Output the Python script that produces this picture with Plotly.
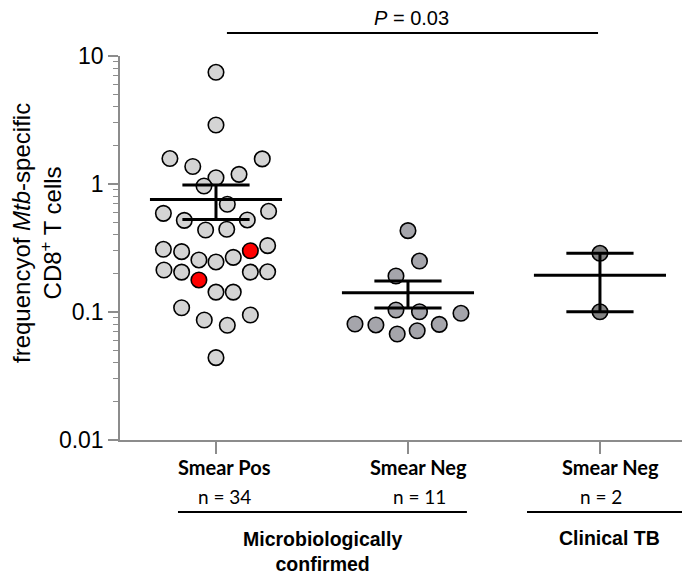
import numpy as np
import plotly.graph_objects as go

# ---- data ----
categories = ["Smear Pos", "Smear Neg", "Smear Neg"]
n_labels = ["n = 34", "n = 11", "n = 2"]

smear_pos = [7.46, 2.89, 1.58, 1.37, 1.57, 1.19, 1.12, 0.965, 0.694, 0.590,
             0.612, 0.520, 0.524, 0.437, 0.443, 0.309, 0.296, 0.301, 0.330, 0.255,
             0.246, 0.267, 0.213, 0.205, 0.178, 0.205, 0.206, 0.143, 0.143, 0.108,
             0.0866, 0.0787, 0.0948, 0.0440]
smear_pos_jitter = [0, 0, -0.240, -0.121, 0.241, 0.120, 0, -0.0625, 0.059, -0.274,
                    0.274, -0.165, 0.163, -0.054, 0.056, -0.274, -0.179, 0.179, 0.269, -0.089,
                    0, 0.090, -0.271, -0.179, -0.089, 0.179, 0.269, 0, 0.090, -0.179,
                    -0.061, 0.059, 0.179, 0]
smear_pos_red = [17, 24]  # indices of highlighted (red) donors

smear_neg = [0.432, 0.250, 0.191, 0.1036, 0.1005, 0.0977, 0.0806, 0.0792, 0.080, 0.0673, 0.0714]
smear_neg_jitter = [0, 0.060, -0.0625, -0.0625, 0.060, 0.276, -0.276, -0.167, 0.163, -0.056, 0.048]

clinical = [0.2874, 0.1005]
clinical_jitter = [0, 0]

groups = [smear_pos, smear_neg, clinical]
jitters = [smear_pos_jitter, smear_neg_jitter, clinical_jitter]
fills = ["#d4d4d4", "#a5a5ab", "#828282"]

fig = go.Figure()

for gi, (vals, jit, fc) in enumerate(zip(groups, jitters, fills)):
    xs = [gi + j for j in jit]
    colors = [fc] * len(vals)
    if gi == 0:
        for k in smear_pos_red:
            colors[k] = "#ff0000"
    fig.add_trace(go.Scatter(
        x=xs, y=vals, mode="markers",
        marker=dict(size=15.5, color=colors, line=dict(color="black", width=1.6)),
        showlegend=False, hoverinfo="y"))

# mean +/- SEM
for gi, vals in enumerate(groups):
    v = np.array(vals)
    m = v.mean()
    sem = v.std(ddof=1) / np.sqrt(len(v))
    lo, hi = m - sem, m + sem
    xs = [gi - 0.344, gi + 0.344, None, gi - 0.175, gi + 0.175, None,
          gi - 0.175, gi + 0.175, None, gi, gi]
    ys = [m, m, None, hi, hi, None, lo, lo, None, lo, hi]
    fig.add_trace(go.Scatter(x=xs, y=ys, mode="lines",
                             line=dict(color="black", width=3),
                             showlegend=False, hoverinfo="skip"))

axis_col = "#8c8c8c"
minor_vals = [k * 10.0 ** e for e in (-2, -1, 0) for k in range(2, 10)]

# page has an 8px body margin: figure is offset by (8, 8)
fig.update_layout(
    width=682, height=570,
    margin=dict(l=112, r=0, t=48, b=138),
    paper_bgcolor="white", plot_bgcolor="white",
    font=dict(family="Liberation Sans, Arial, sans-serif", color="black"),
    xaxis=dict(range=[-0.5, 2.469], showgrid=False, zeroline=False,
               showline=True, linecolor=axis_col, linewidth=1.5,
               tickvals=[0, 1, 2], showticklabels=False, ticks="outside",
               ticklen=12, tickwidth=2, tickcolor=axis_col),
    yaxis=dict(type="log", range=[-2, 1], showgrid=False, zeroline=False,
               showline=True, linecolor=axis_col, linewidth=1.5,
               tickvals=[0.01, 0.1, 1, 10], ticktext=["0.01", "0.1", "1", "10"],
               ticks="outside", ticklen=10, tickwidth=1.5, tickcolor=axis_col,
               tickfont=dict(size=23),
               minor=dict(tickvals=minor_vals, ticks="outside", ticklen=5,
                          tickwidth=1.2, tickcolor=axis_col, showgrid=False)),
)

def py(px):
    # page pixel row -> paper y (plot area spans rows 56..440 of the page)
    return (440 - px) / 384.0

# y-axis title
fig.add_annotation(text="frequencyof <i>Mtb</i>-specific<br>CD8<sup>+</sup> T cells",
                   xref="paper", yref="paper", x=(37 - 120) / 570, y=py(233),
                   textangle=-90, showarrow=False, xanchor="center", yanchor="middle",
                   font=dict(size=24))

# category labels
cat_font = dict(family="Lato, Open Sans, sans-serif", size=20, color="black", weight=900)
shifts = [9, 11, 11]
n_shifts = [9, 12, 1]
for gi, (c, nl) in enumerate(zip(categories, n_labels)):
    fig.add_annotation(text="<b>%s</b>" % c, x=gi, xshift=shifts[gi], xref="x",
                       yref="paper", y=py(467), showarrow=False,
                       xanchor="center", yanchor="middle", font=cat_font)
    fig.add_annotation(text=nl, x=gi, xshift=n_shifts[gi], xref="x",
                       yref="paper", y=py(496), showarrow=False,
                       xanchor="center", yanchor="middle",
                       font=dict(family="Lato, Open Sans, sans-serif", size=19))

# group brackets
fig.add_shape(type="line", xref="x", yref="paper", x0=-0.198, x1=1.307,
              y0=py(512), y1=py(512), line=dict(color="black", width=2))
fig.add_shape(type="line", xref="x", yref="paper", x0=1.62, x1=2.5,
              y0=py(512), y1=py(512), line=dict(color="black", width=2))
fig.add_annotation(text="<b>Microbiologically<br>confirmed</b>", x=0.555, xref="x",
                   yref="paper", y=py(551), showarrow=False, xanchor="center",
                   yanchor="middle", font=dict(size=19.5))
fig.add_annotation(text="<b>Clinical TB</b>", x=2.05, xref="x",
                   yref="paper", y=py(538), showarrow=False, xanchor="center",
                   yanchor="middle", font=dict(size=19.5))

# significance
fig.add_shape(type="line", xref="x", yref="paper", x0=0.057, x1=1.99,
              y0=py(33), y1=py(33), line=dict(color="black", width=2))
fig.add_annotation(text="<i>P</i> = 0.03", x=1.019, xref="x", yref="paper",
                   y=py(18), showarrow=False, xanchor="center", yanchor="middle",
                   font=dict(size=20))

fig.write_html("out.html")
